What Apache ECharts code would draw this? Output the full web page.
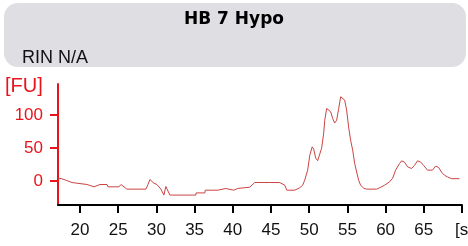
<!DOCTYPE html>
<html>
<head>
<meta charset="utf-8">
<script src="https://cdn.jsdelivr.net/npm/echarts@6/dist/echarts.min.js"></script>
<style>
  html, body { margin: 0; padding: 0; background: #fff; }
  #main { width: 468px; height: 246px; }
</style>
</head>
<body>
<div id="main"></div>
<script type="text/javascript">
// electropherogram trace, time in seconds vs fluorescence units
var sampleName = 'HB 7 Hypo';
var rinText = 'RIN N/A';
var times = [17.12, 17.52, 18.17, 18.95, 20.92, 21.83, 22.61, 23.53, 23.66, 25.10,
  25.36, 25.62, 26.14, 28.63, 28.89, 29.15, 29.41, 29.67, 30.07, 30.33,
  30.59, 30.98, 31.24, 31.37, 31.76, 32.16, 35.16, 35.2, 36.34, 36.4,
  38.04, 38.1, 39.08, 39.1, 40.13, 40.2, 40.65, 40.7, 42.22, 42.88,
  44.84, 44.97, 45.1, 46.14, 46.80, 47.06, 48.10, 48.76, 49.15, 49.41,
  49.54, 49.80, 50.07, 50.39, 50.59, 50.85, 51.11, 51.37, 51.63, 51.90,
  52.03, 52.29, 52.55, 52.81, 53.07, 53.33, 53.59, 53.86, 54.12, 54.38,
  54.64, 54.90, 55.16, 55.42, 55.69, 55.95, 56.21, 56.47, 56.73, 57.12,
  57.52, 58.82, 59.22, 59.87, 60.52, 60.92, 61.31, 61.83, 62.09, 62.48,
  62.88, 63.40, 63.79, 64.18, 64.58, 64.97, 65.49, 66.14, 66.54, 66.93,
  67.32, 67.71, 68.10, 68.63, 69.67];
var fu = [4, 4, 1.5, -2, -5, -8.5, -5, -5, -8.5, -8.5,
  -5, -8, -12, -12, -5, 2.5, 0, -3, -5, -6,
  -12, -21, -8, -10, -21, -21, -21, -17.7, -17.7, -13.6,
  -13.6, -11, -11, -13.6, -13.6, -11, -11, -13.6, -9, -2,
  -2, 0, -2, -2, -6, -13.6, -13.6, -10, -6, 1.5,
  4.5, 16.7, 39, 52, 48.5, 35, 31, 32, 50, 73,
  92, 110, 112.6, 105, 95, 88, 92, 110, 127.7, 129,
  122.7, 107.6, 82, 62, 47, 27, 14, 1.5, -6, -10.6,
  -12, -12, -10, -6, -1, 4.5, 16.7, 26.8, 30.8, 28.8,
  21.7, 19.2, 24, 30.8, 29, 24, 16.7, 16.7, 22.7, 21,
  13.6, 9, 6.5, 3.8, 3.8];
var yTicks = [0, 50, 100];
var xTicks = [20, 25, 30, 35, 40, 45, 50, 55, 60, 65, 70];
var xLabels = [20, 25, 30, 35, 40, 45, 50, 55, 60, 65];

var trace = times.map(function (t, i) { return [t, fu[i]]; });
var labelFont = 'Liberation Sans';

var chart = echarts.init(document.getElementById('main'));
chart.setOption({
  animation: false,
  backgroundColor: '#ffffff',
  graphic: [
    {
      type: 'rect',
      shape: { x: 4, y: 3, width: 462, height: 64, r: 14 },
      style: { fill: '#dfdee3' },
      z: 0
    },
    {
      type: 'text',
      left: 'center',
      top: 11,
      style: { text: sampleName, fontFamily: 'DejaVu Sans', fontWeight: 'bold', fontSize: 17, fill: '#000' }
    },
    {
      type: 'text',
      left: 22,
      top: 49,
      style: { text: rinText, fontFamily: labelFont, fontSize: 18, fill: '#111' }
    },
    {
      type: 'text',
      left: 5,
      top: 76,
      style: { text: '[FU]', fontFamily: labelFont, fontSize: 20, fill: '#e8141c' }
    },
    {
      // unit label at the end of the time axis, cut by the right edge as in the original
      type: 'text',
      x: 455,
      y: 222,
      style: { text: '[s]', fontFamily: labelFont, fontSize: 17, fill: '#111' }
    }
  ],
  grid: { left: 58, right: 6, top: 84, bottom: 41 },
  xAxis: {
    type: 'value',
    min: 17.12,
    max: 70,
    splitLine: { show: false },
    axisLine: { onZero: false, lineStyle: { color: '#000', width: 2 } },
    axisTick: { length: 8, customValues: xTicks, lineStyle: { color: '#000', width: 2 } },
    axisLabel: {
      customValues: xLabels,
      margin: 17,
      color: '#111',
      fontFamily: labelFont,
      fontSize: 17
    }
  },
  yAxis: {
    type: 'value',
    min: -36,
    max: 147,
    splitLine: { show: false },
    axisLine: { show: true, onZero: false, lineStyle: { color: '#e8141c', width: 2 } },
    axisTick: { length: 8, customValues: yTicks, lineStyle: { color: '#e8141c', width: 2 } },
    axisLabel: {
      customValues: yTicks,
      margin: 15,
      color: '#e8141c',
      fontFamily: labelFont,
      fontSize: 17
    }
  },
  series: [{
    type: 'line',
    data: trace,
    symbol: 'none',
    lineStyle: { color: '#cc4444', width: 1 }
  }]
});
</script>
</body>
</html>
